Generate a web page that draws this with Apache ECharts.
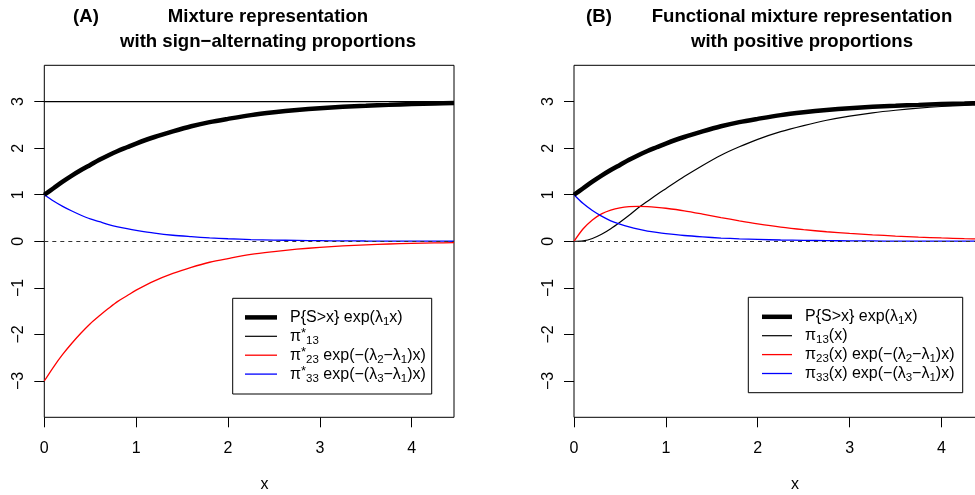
<!DOCTYPE html>
<html>
<head>
<meta charset="utf-8">
<script src="https://cdn.jsdelivr.net/npm/echarts@6/dist/echarts.min.js"></script>
<style>html,body{margin:0;padding:0;background:#fff}#c{width:975px;height:495px}</style>
</head>
<body>
<div id="c"></div>
<script>
// ---- data ----
const xs      = [0, 0.1, 0.2, 0.3, 0.4, 0.5, 0.6, 0.7, 0.8, 0.9, 1.0, 1.2, 1.4, 1.6, 1.8, 2.0, 2.25, 2.5, 2.75, 3.0, 3.25, 3.5, 3.75, 4.0, 4.25, 4.46];
const survExp = [1.00, 1.14, 1.28, 1.41, 1.53, 1.64, 1.75, 1.85, 1.94, 2.02, 2.10, 2.24, 2.36, 2.47, 2.56, 2.63, 2.71, 2.77, 2.82, 2.86, 2.89, 2.91, 2.93, 2.95, 2.96, 2.97];
const redA    = [-3.00, -2.70, -2.43, -2.19, -1.97, -1.77, -1.60, -1.44, -1.29, -1.17, -1.05, -0.85, -0.69, -0.56, -0.45, -0.37, -0.28, -0.22, -0.17, -0.13, -0.10, -0.076, -0.058, -0.045, -0.035, -0.028];
const blueA   = [1.00, 0.865, 0.75, 0.65, 0.56, 0.48, 0.42, 0.36, 0.31, 0.27, 0.235, 0.175, 0.13, 0.10, 0.074, 0.055, 0.038, 0.027, 0.019, 0.013, 0.009, 0.006, 0.004, 0.003, 0.002, 0.0015];
const constX  = [0, 4.46];
const pi13A   = [3, 3];
const redB    = [0, 0.27, 0.46, 0.59, 0.67, 0.72, 0.745, 0.75, 0.745, 0.73, 0.71, 0.655, 0.585, 0.51, 0.44, 0.375, 0.305, 0.25, 0.205, 0.17, 0.14, 0.113, 0.09, 0.072, 0.057, 0.047];
const blackB  = [0, 0.01, 0.06, 0.15, 0.27, 0.41, 0.56, 0.72, 0.86, 1.00, 1.13, 1.39, 1.63, 1.85, 2.03, 2.19, 2.355, 2.485, 2.60, 2.69, 2.76, 2.815, 2.86, 2.895, 2.92, 2.94];
const blueB   = [1.00, 0.81, 0.66, 0.54, 0.44, 0.37, 0.31, 0.26, 0.22, 0.19, 0.165, 0.125, 0.095, 0.07, 0.053, 0.04, 0.028, 0.02, 0.014, 0.01, 0.007, 0.005, 0.004, 0.003, 0.002, 0.0015];
const xTicks  = [0, 1, 2, 3, 4];
const yTicks  = [-3, -2, -1, 0, 1, 2, 3];
const xRange  = [0, 4.46];
const yRange  = [-3.78, 3.78];

const legendA = [
  { label: 'P{S>x} exp(λ{sub|1}x)', color: '#000', width: 4.5 },
  { label: 'π{sup|*}{sub|13}', color: '#000', width: 1.2 },
  { label: 'π{sup|*}{sub|23} exp(−(λ{sub|2}−λ{sub|1})x)', color: '#ff0000', width: 1.3 },
  { label: 'π{sup|*}{sub|33} exp(−(λ{sub|3}−λ{sub|1})x)', color: '#0000ff', width: 1.3 }
];
const legendB = [
  { label: 'P{S>x} exp(λ{sub|1}x)', color: '#000', width: 4.5 },
  { label: 'π{sub|13}(x)', color: '#000', width: 1.2 },
  { label: 'π{sub|23}(x) exp(−(λ{sub|2}−λ{sub|1})x)', color: '#ff0000', width: 1.3 },
  { label: 'π{sub|33}(x) exp(−(λ{sub|3}−λ{sub|1})x)', color: '#0000ff', width: 1.3 }
];

const FONT = '"Liberation Sans", Arial, Helvetica, sans-serif';
const pairs = (x, y) => x.map((v, i) => [v, y[i]]);
const gridBase = { top: 65.3, width: 409.7, height: 352, show: true, borderColor: '#000', borderWidth: 1,
  backgroundColor: 'transparent', outerBoundsMode: 'none', containLabel: false };
const mkX = (gi) => ({
  type: 'value', gridIndex: gi, min: xRange[0], max: xRange[1],
  axisLine: { show: false, onZero: false }, splitLine: { show: false },
  axisTick: { show: true, length: 10, customValues: xTicks, lineStyle: { color: '#000', width: 1 } },
  axisLabel: { customValues: xTicks, margin: 23, fontSize: 16, color: '#000', fontFamily: FONT }
});
const mkY = (gi) => ({
  type: 'value', gridIndex: gi, min: yRange[0], max: yRange[1],
  axisLine: { show: false, onZero: false }, splitLine: { show: false },
  axisTick: { show: true, length: 10, customValues: yTicks, lineStyle: { color: '#000', width: 1 } },
  axisLabel: { customValues: yTicks, rotate: 90, margin: 17.5, fontSize: 16, color: '#000', fontFamily: FONT,
    formatter: v => (v < 0 ? '\u2212' + Math.abs(v) : String(v)) }
});
const zeroLine = {
  silent: true, symbol: 'none', label: { show: false },
  lineStyle: { color: '#333', type: [4, 4], width: 1 },
  data: [{ yAxis: 0 }]
};
const line = (name, gi, x, y, color, width, extra) => Object.assign({
  name, type: 'line', xAxisIndex: gi, yAxisIndex: gi, data: pairs(x, y),
  showSymbol: false, symbol: 'none', smooth: 0.3,
  lineStyle: { color, width }, itemStyle: { color }, animation: false, silent: true
}, extra || {});

const rich = {
  sub: { fontSize: 11.5, fontFamily: FONT, fill: '#000', lineHeight: 11.5, padding: [9, 0, 0, 0] },
  sup: { fontSize: 13, fontFamily: FONT, fill: '#000', lineHeight: 13, padding: [0, 0, 5, 0] }
};
function legendGraphics(items, box, lineX0, lineX1, textX, y0) {
  const out = [{ type: 'rect', shape: box, style: { fill: '#fff', stroke: '#000', lineWidth: 1 }, z: 10 }];
  items.forEach((it, i) => {
    const y = y0 + 18.9 * i;
    out.push({ type: 'line', shape: { x1: lineX0, y1: y, x2: lineX1, y2: y }, style: { stroke: it.color, lineWidth: it.width }, z: 11 });
    out.push({ type: 'text', x: textX, y: y, z: 11,
      style: { text: it.label, rich, fontSize: 16, fontFamily: FONT, fill: '#000', align: 'left', verticalAlign: 'middle' } });
  });
  return out;
}
const titleStyle = { fontSize: 18.6, fontWeight: 'bold', fontFamily: FONT, color: '#000', lineHeight: 25 };

const option = {
  animation: false,
  backgroundColor: '#fff',
  title: [
    { text: '(A)', left: 86, top: 4.2, textAlign: 'center', padding: 0, textStyle: titleStyle },
    { text: 'Mixture representation\nwith sign\u2212alternating proportions', left: 268, top: 4.2, textAlign: 'center', padding: 0, textStyle: titleStyle },
    { text: '(B)', left: 599, top: 4.2, textAlign: 'center', padding: 0, textStyle: titleStyle },
    { text: 'Functional mixture representation\nwith positive proportions', left: 802, top: 4.2, textAlign: 'center', padding: 0, textStyle: titleStyle }
  ],
  grid: [Object.assign({ left: 44.3 }, gridBase), Object.assign({ left: 574 }, gridBase)],
  xAxis: [mkX(0), mkX(1)],
  yAxis: [mkY(0), mkY(1)],
  graphic: [].concat(
    legendGraphics(legendA, { x: 232.7, y: 298.3, width: 199, height: 95.7 }, 245, 277, 290, 317.4),
    legendGraphics(legendB, { x: 748.3, y: 297.3, width: 214.4, height: 95.4 }, 762, 792, 805, 316.8),
    [
      { type: 'text', x: 264.5, y: 485, style: { text: 'x', fontSize: 16, fontFamily: FONT, fill: '#000', align: 'center', verticalAlign: 'middle' } },
      { type: 'text', x: 795, y: 485, style: { text: 'x', fontSize: 16, fontFamily: FONT, fill: '#000', align: 'center', verticalAlign: 'middle' } }
    ]
  ),
  series: [
    line('π*13', 0, constX, pi13A, '#000', 1.2, { smooth: false, markLine: zeroLine }),
    line('π*23 exp(−(λ2−λ1)x)', 0, xs, redA, '#ff0000', 1.3),
    line('π*33 exp(−(λ3−λ1)x)', 0, xs, blueA, '#0000ff', 1.3),
    line('P{S>x} exp(λ1x)', 0, xs, survExp, '#000', 4.5),
    line('π13(x)', 1, xs, blackB, '#000', 1.2, { markLine: zeroLine }),
    line('π23(x) exp(−(λ2−λ1)x)', 1, xs, redB, '#ff0000', 1.3),
    line('π33(x) exp(−(λ3−λ1)x)', 1, xs, blueB, '#0000ff', 1.3),
    line('P{S>x} exp(λ1x)', 1, xs, survExp, '#000', 4.5)
  ]
};
const chart = echarts.init(document.getElementById('c'), null, { renderer: 'canvas' });
chart.setOption(option);
</script>
</body>
</html>
